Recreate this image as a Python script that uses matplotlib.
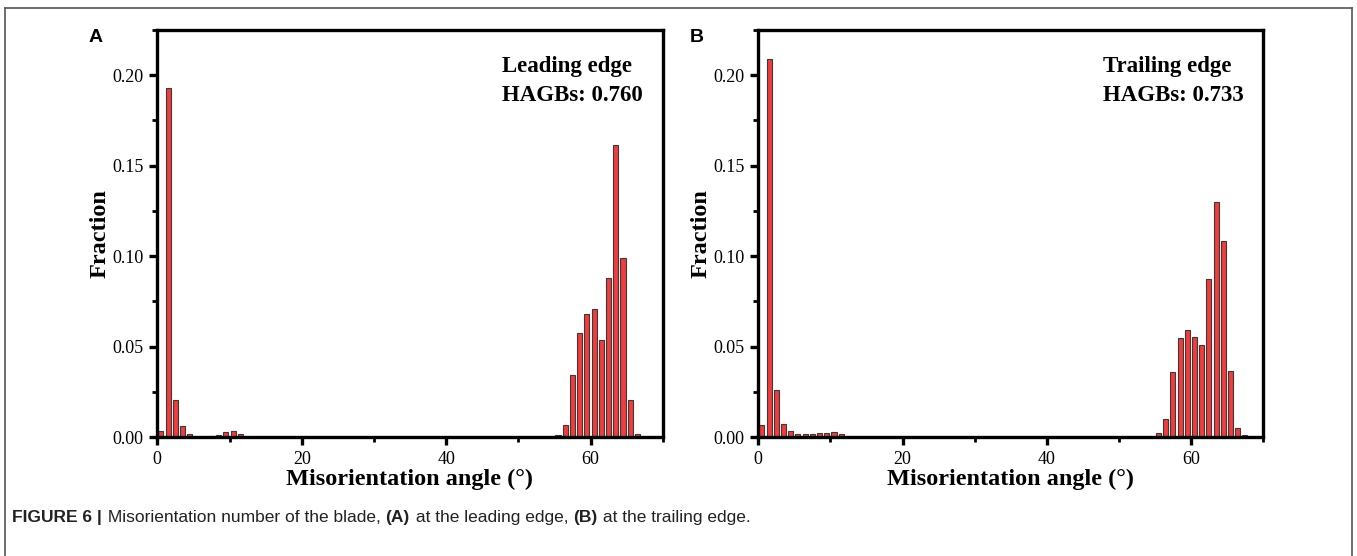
import matplotlib
matplotlib.use("Agg")
from matplotlib import pyplot as plt
from matplotlib.lines import Line2D
import numpy as np

# bin centres (1 degree bins)
low_bins = np.arange(0.5, 12.0, 1.0)
lead_high_bins = np.arange(55.5, 67.0, 1.0)
trail_high_bins = np.arange(55.5, 68.0, 1.0)

lead_low = [0.0032, 0.1927, 0.0203, 0.0061, 0.0019, 0.0, 0.0, 0.0005, 0.0013, 0.0030, 0.0033, 0.0019]
lead_high = [0.0013, 0.0069, 0.0340, 0.0575, 0.0679, 0.0706, 0.0539, 0.0878, 0.1615, 0.0990, 0.0203, 0.0019]

trail_low = [0.0068, 0.2090, 0.0262, 0.0073, 0.0031, 0.0018, 0.0016, 0.0018, 0.0022, 0.0024, 0.0029, 0.0018]
trail_high = [0.0022, 0.0100, 0.0362, 0.0548, 0.0589, 0.0555, 0.0506, 0.0871, 0.1301, 0.1083, 0.0366, 0.0050, 0.0009]

panel_letters = ["A", "B"]
panel_titles = ["Leading edge\nHAGBs: 0.760", "Trailing edge\nHAGBs: 0.733"]
x_ticks = [0, 20, 40, 60]
y_ticks = [0.00, 0.05, 0.10, 0.15, 0.20]

serif = "Liberation Serif"
sans = "Liberation Sans"

W, H = 1357, 556
fig = plt.figure(figsize=(W / 100, H / 100), dpi=100)

def px_axes(x0, x1, y0, y1):
    return fig.add_axes([x0 / W, 1 - y1 / H, (x1 - x0) / W, (y1 - y0) / H])

ax1 = px_axes(157.3, 662.7, 30, 437)
ax2 = px_axes(758.3, 1263, 30, 437)

data = [(lead_low, lead_high, lead_high_bins), (trail_low, trail_high, trail_high_bins)]
for i, ax in enumerate([ax1, ax2]):
    low, high, hb = data[i]
    x = np.concatenate([low_bins, hb])
    y = np.concatenate([low, high])
    ax.bar(x, y, width=0.7, color="#f23b3b", edgecolor="#3a3a3a", linewidth=0.8, zorder=2)
    ax.set_xlim(0, 70)
    ax.set_ylim(0, 0.225)
    ax.set_xticks(x_ticks)
    ax.set_xticks([10, 30, 50, 70], minor=True)
    ax.set_yticks(y_ticks)
    ax.set_yticks([0.025, 0.075, 0.125, 0.175, 0.225], minor=True)
    ax.set_yticklabels(["%.2f" % v for v in y_ticks])
    for s in ax.spines.values():
        s.set_linewidth(2.4)
    ax.tick_params(which="major", direction="out", length=6, width=2.4, labelsize=13, pad=4)
    ax.tick_params(which="minor", direction="out", length=3.5, width=2.0)
    ax.tick_params(top=False, right=False)
    for lab in ax.get_xticklabels() + ax.get_yticklabels():
        lab.set_family(serif)
    ax.set_xlabel("Misorientation angle (\u00b0)", fontsize=17.5, fontweight="bold", family=serif, labelpad=1)
    ax.set_ylabel("Fraction", fontsize=17.5, fontweight="bold", family=serif, labelpad=1)
    ax.text(0.682, 0.935, panel_titles[i], transform=ax.transAxes, ha="left", va="top",
            fontsize=16.5, fontweight="bold", family=serif, linespacing=1.45)

fig.text(96 / W, 1 - 37 / H, panel_letters[0], ha="center", va="center", fontsize=14, fontweight="bold", family=sans)
fig.text(697 / W, 1 - 37 / H, panel_letters[1], ha="center", va="center", fontsize=14, fontweight="bold", family=sans)

# outer frame
fc = "#555555"
fig.add_artist(Line2D([5 / W, 5 / W], [0, 1 - 8 / H], color=fc, lw=1.2))
fig.add_artist(Line2D([1352 / W, 1352 / W], [0, 1 - 8 / H], color=fc, lw=1.2))
fig.add_artist(Line2D([5 / W, 1352 / W], [1 - 8 / H, 1 - 8 / H], color=fc, lw=1.2))

# caption, pieces placed one after another
parts = [("FIGURE 6 |", "bold"), (" Misorientation number of the blade, ", "normal"), ("(A)", "bold"),
         (" at the leading edge, ", "normal"), ("(B)", "bold"), (" at the trailing edge.", "normal")]
renderer = fig.canvas.get_renderer()
xpos = 12.0
for txt, wt in parts:
    t = fig.text(xpos / W, 1 - 522 / H, txt, ha="left", va="baseline", fontsize=12.5,
                 fontweight=wt, family=sans, color="#222222")
    xpos = t.get_window_extent(renderer).x1 + (1 if wt == "bold" else 0)

fig.savefig("out.png", dpi=100)
